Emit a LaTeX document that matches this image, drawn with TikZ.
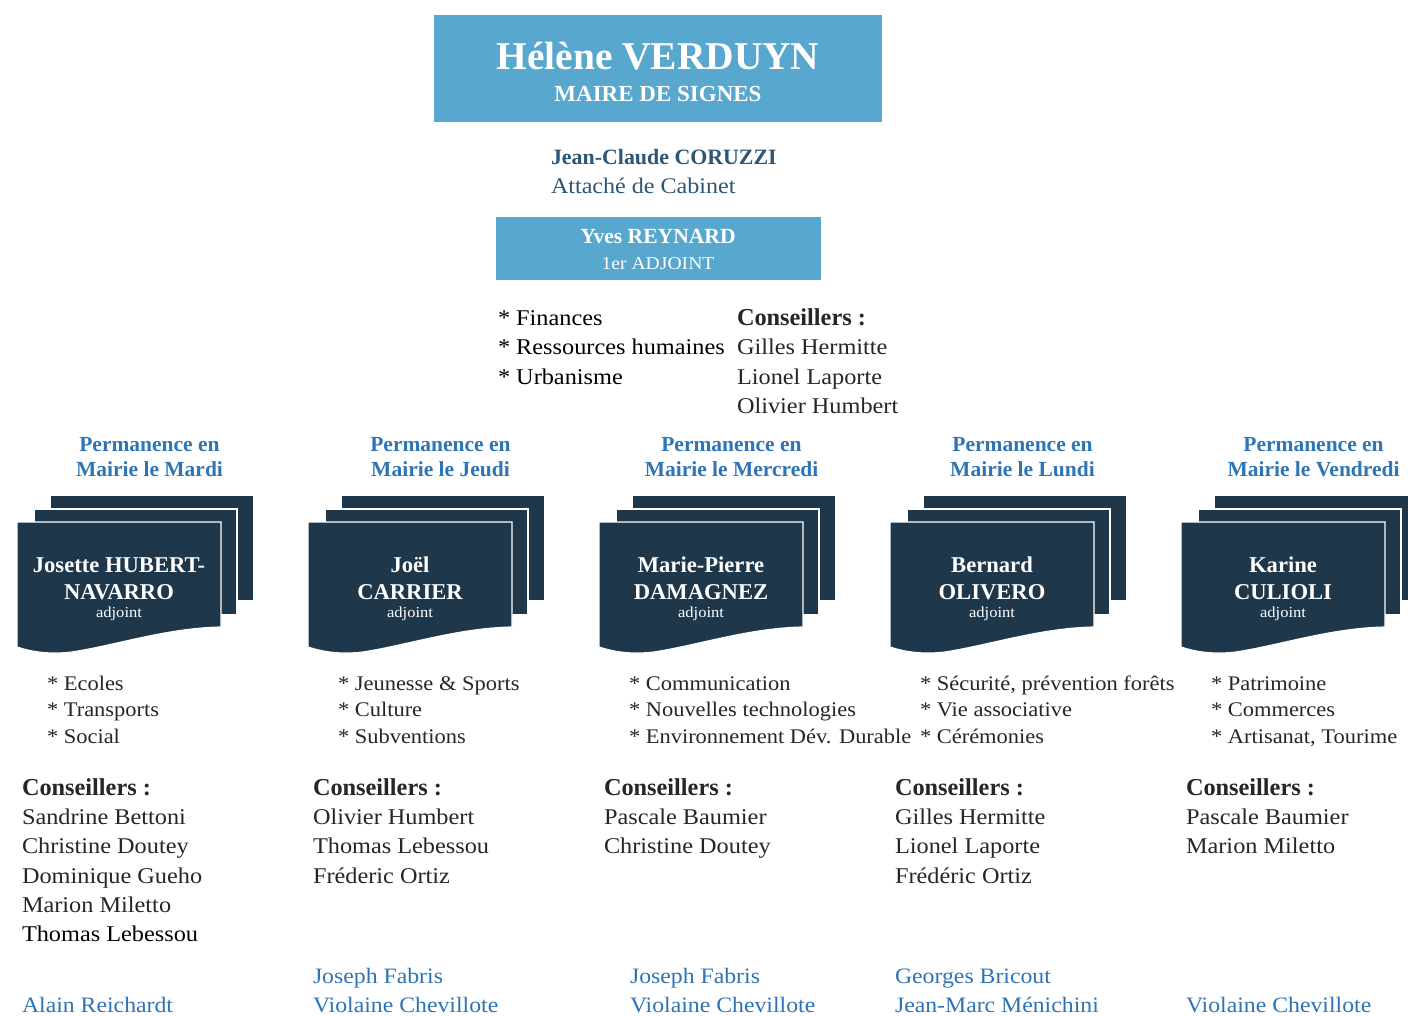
\documentclass[tikz,border=0pt]{standalone}
\usepackage{fontspec}
\setmainfont{Liberation Serif}[FakeStretch=1.08]
\newfontfamily\bdf{Liberation Serif}
\definecolor{lightbox}{HTML}{57A7CF}
\definecolor{navy}{HTML}{1E374B}
\definecolor{txt}{HTML}{262626}
\definecolor{permblue}{HTML}{2E75B6}
\definecolor{linkblue}{HTML}{2E74B5}
\definecolor{steel}{HTML}{2D5574}
\begin{document}
\begin{tikzpicture}[x=1pt,y=-1pt,
  lb/.style={inner sep=0pt,outer sep=0pt,anchor=base west},
  cb/.style={inner sep=0pt,outer sep=0pt,anchor=base},
  reg/.style={font=\fontsize{22.5}{27}\selectfont,text=txt},
  regk/.style={font=\fontsize{22.5}{27}\selectfont,text=black},
  duty/.style={font=\fontsize{20.8}{25}\selectfont,text=txt},
  cons/.style={font={\bdf\bfseries\fontsize{24.3}{29}\selectfont},text=txt},
  perm/.style={font={\bdf\bfseries\fontsize{21.5}{26}\selectfont},text=permblue},
  cardname/.style={font={\bdf\bfseries\fontsize{22.6}{26}\selectfont},text=white},
  adj/.style={font=\fontsize{15.3}{18}\selectfont,text=white},
  extra/.style={font=\fontsize{22}{27}\selectfont,text=linkblue},
  card/.style={fill=navy,draw=white,line width=1.2pt},
  bluebox/.style={fill=lightbox,draw=none}]
\useasboundingbox[fill=white] (0,0) rectangle (1408,1016);

% ---------- top ----------
\path[bluebox] (434,15) rectangle (882,122);
\node[cb,font={\bdf\bfseries\fontsize{39.4}{44}\selectfont},text=white] (maire) at (658,70) {Hélène VERDUYN};
\node[cb,font={\bdf\bfseries\fontsize{23}{27}\selectfont},text=white] (mairet) at (658,101.7) {MAIRE DE SIGNES};

\node[lb,font={\bdf\bfseries\fontsize{21.9}{26}\selectfont},text=steel] (jc) at (551,165) {Jean-Claude CORUZZI};
\node[lb,font=\fontsize{22.3}{26}\selectfont,text=steel] (jct) at (551,194) {Attaché de Cabinet};

\path[bluebox] (496,217.3) rectangle (821,280);
\node[cb,font={\bdf\bfseries\fontsize{21.6}{26}\selectfont},text=white] (yves) at (658,244) {Yves REYNARD};
\node[cb,font=\fontsize{18.2}{22}\selectfont,text=white] (yvest) at (658,270) {1er ADJOINT};

\node[lb,regk] (yd1) at (498,325) {* Finances};
\node[lb,regk] (yd2) at (498,354.5) {* Ressources humaines};
\node[lb,regk] (yd3) at (498,384) {* Urbanisme};
\node[lb,cons] (yc0) at (737,325) {Conseillers :};
\node[lb,reg] (yc1) at (737,354.5) {Gilles Hermitte};
\node[lb,reg] (yc2) at (737,384) {Lionel Laporte};
\node[lb,reg] (yc3) at (737,413.5) {Olivier Humbert};

% ---------- card stacks ----------
\foreach \i in {0,...,4}{
  \pgfmathsetmacro\xo{17+291*\i}
  \path[card] (\xo+33,495) rectangle (\xo+237,601);
  \path[card] (\xo+17,509) rectangle (\xo+220,615);
  \path[card] (\xo,522) -- (\xo+204,522) -- (\xo+204,627)
     .. controls (\xo+150,628) and (\xo+100,645) .. (\xo+55,652)
     .. controls (\xo+30,655) and (\xo+12,651) .. (\xo,647) -- cycle;
  \node[cb,perm] (perm\i a) at (\xo+132.5,451.7) {Permanence en};
  \node[cb,adj] (adj\i) at (\xo+102,617.5) {adjoint};
}
\node[cb,perm] (perm0b) at (149.5,476) {Mairie le Mardi};
\node[cb,perm] (perm1b) at (440.5,476) {Mairie le Jeudi};
\node[cb,perm] (perm2b) at (731.5,476) {Mairie le Mercredi};
\node[cb,perm] (perm3b) at (1022.5,476) {Mairie le Lundi};
\node[cb,perm] (perm4b) at (1313.5,476) {Mairie le Vendredi};

\node[cb,cardname] (n0a) at (119,572.5) {Josette HUBERT-};
\node[cb,cardname] (n0b) at (119,599.5) {NAVARRO};
\node[cb,cardname] (n1a) at (410,572.5) {Joël};
\node[cb,cardname] (n1b) at (410,599.5) {CARRIER};
\node[cb,cardname] (n2a) at (701,572.5) {Marie-Pierre};
\node[cb,cardname] (n2b) at (701,599.5) {DAMAGNEZ};
\node[cb,cardname] (n3a) at (992,572.5) {Bernard};
\node[cb,cardname] (n3b) at (992,599.5) {OLIVERO};
\node[cb,cardname] (n4a) at (1283,572.5) {Karine};
\node[cb,cardname] (n4b) at (1283,599.5) {CULIOLI};

% ---------- duties ----------
\node[lb,duty] (d0a) at (47,690) {* Ecoles};
\node[lb,duty] (d0b) at (47,716.7) {* Transports};
\node[lb,duty] (d0c) at (47,743.3) {* Social};
\node[lb,duty] (d1a) at (338,690) {* Jeunesse \& Sports};
\node[lb,duty] (d1b) at (338,716.7) {* Culture};
\node[lb,duty] (d1c) at (338,743.3) {* Subventions};
\node[lb,duty] (d2a) at (629,690) {* Communication};
\node[lb,duty] (d2b) at (629,716.7) {* Nouvelles technologies};
\node[lb,duty] (d2c) at (629,743.3) {* Environnement Dév. Durable};
\node[lb,duty] (d3a) at (920,690) {* Sécurité, prévention forêts};
\node[lb,duty] (d3b) at (920,716.7) {* Vie associative};
\node[lb,duty] (d3c) at (920,743.3) {* Cérémonies};
\node[lb,duty] (d4a) at (1211,690) {* Patrimoine};
\node[lb,duty] (d4b) at (1211,716.7) {* Commerces};
\node[lb,duty] (d4c) at (1211,743.3) {* Artisanat, Tourime};

% ---------- conseillers ----------
\foreach \i in {0,...,4}{
  \pgfmathsetmacro\xc{22+291*\i}
  \node[lb,cons] (c\i) at (\xc,795) {Conseillers :};
}
\node[lb,reg] (c0a) at (22,824.5) {Sandrine Bettoni};
\node[lb,reg] (c0b) at (22,853.8) {Christine Doutey};
\node[lb,reg] (c0c) at (22,883.1) {Dominique Gueho};
\node[lb,reg] (c0d) at (22,912.4) {Marion Miletto};
\node[lb,regk] (c0e) at (22,941.7) {Thomas Lebessou};
\node[lb,reg] (c1a) at (313,824.5) {Olivier Humbert};
\node[lb,reg] (c1b) at (313,853.8) {Thomas Lebessou};
\node[lb,reg] (c1c) at (313,883.1) {Fréderic Ortiz};
\node[lb,reg] (c2a) at (604,824.5) {Pascale Baumier};
\node[lb,reg] (c2b) at (604,853.8) {Christine Doutey};
\node[lb,reg] (c3a) at (895,824.5) {Gilles Hermitte};
\node[lb,reg] (c3b) at (895,853.8) {Lionel Laporte};
\node[lb,reg] (c3c) at (895,883.1) {Frédéric Ortiz};
\node[lb,reg] (c4a) at (1186,824.5) {Pascale Baumier};
\node[lb,reg] (c4b) at (1186,853.8) {Marion Miletto};

% ---------- bottom names ----------
\node[lb,extra] (e0b) at (22,1012) {Alain Reichardt};
\node[lb,extra] (e1a) at (313,983) {Joseph Fabris};
\node[lb,extra] (e1b) at (313,1012) {Violaine Chevillote};
\node[lb,extra] (e2a) at (630,983) {Joseph Fabris};
\node[lb,extra] (e2b) at (630,1012) {Violaine Chevillote};
\node[lb,extra] (e3a) at (895,983) {Georges Bricout};
\node[lb,extra] (e3b) at (895,1012) {Jean-Marc Ménichini};
\node[lb,extra] (e4b) at (1186,1012) {Violaine Chevillote};
\end{tikzpicture}
\end{document}
